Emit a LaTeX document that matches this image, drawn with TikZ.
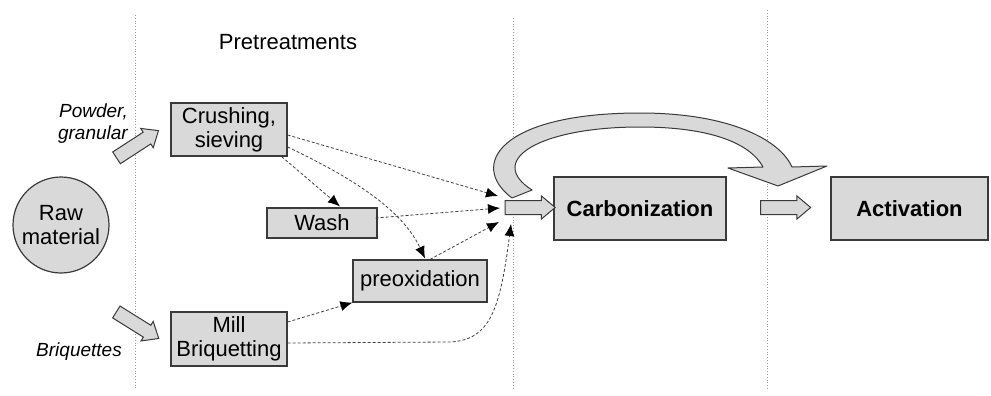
\documentclass[tikz,border=0pt]{standalone}
\usepackage{fontspec}
\setmainfont{Liberation Sans}
\usetikzlibrary{shapes.arrows,arrows.meta,calc}
\definecolor{boxfill}{HTML}{D9D9D9}
\definecolor{boxline}{HTML}{3A3A3A}
\begin{document}
\begin{tikzpicture}[x=1pt,y=-1pt,
  procbox/.style={draw=boxline,fill=boxfill,line width=1.2pt,inner sep=0pt,align=center,
     font=\fontsize{22}{24}\selectfont},
  bigbox/.style={procbox,font=\fontsize{22}{24}\selectfont\bfseries},
  fatarrow/.style={single arrow,draw=boxline,fill=boxfill,line width=1pt,inner xsep=0pt,inner ysep=6.5pt,
     minimum height=50pt,single arrow head extend=4.5pt,single arrow tip angle=80},
  flow/.style={densely dashed,draw=black!75,line width=0.8pt,-{Latex[length=12pt,width=10pt,color=black]}},
  sep/.style={dotted,draw=black!40,line width=0.8pt},
  lbl/.style={font=\fontsize{19}{22}\selectfont\itshape,align=right,inner sep=0pt}]
\useasboundingbox (0,0) rectangle (991,396);
% separators
\draw[sep] (135,15) -- (135,390);
\draw[sep] (513,18) -- (513,390);
\draw[sep] (767,10) -- (767,390);
% title
\node[font=\fontsize{22}{24}\selectfont] (title) at (288,42) {Pretreatments};
% raw material
\node[procbox,circle,minimum size=96pt] (raw) at (61,225) {Raw\\material};
% labels
\node[lbl,anchor=east] (pg) at (128,124) {Powder,\\granular};
\node[lbl] (briq) at (79,352) {Briquettes};
% process boxes
\node[procbox,minimum width=116pt,minimum height=53pt] (crush) at (229,129.5) {Crushing,\\sieving};
\node[procbox,minimum width=116pt,minimum height=54pt] (mill) at (229,339) {Mill\\Briquetting};
\node[procbox,minimum width=110pt,minimum height=30pt] (wash) at (322,223) {Wash};
\node[procbox,minimum width=134pt,minimum height=42pt] (preox) at (420,281) {preoxidation};
\node[bigbox,minimum width=172pt,minimum height=63pt] (carb) at (640,208.5) {Carbonization};
\node[bigbox,minimum width=157pt,minimum height=63pt] (act) at (909.5,208.5) {Activation};
% fat arrows
\node[fatarrow,rotate=33] (a1) at (134,146.5) {};
\node[fatarrow,rotate=-32] (a2) at (134,323) {};
\node[fatarrow] (a3) at (526,207.5) {};
\node[fatarrow] (a4) at (781.5,207.5) {};
% curved big arrow
\draw[draw=boxline,fill=boxfill,line width=1pt,line join=round]
  (512,198) .. controls (468,165) and (500,113) .. (640,113)
  .. controls (730,113) and (780,140) .. (792,167)
  -- (827,166) -- (778,186) -- (728,168) -- (763,167)
  .. controls (750,143) and (710,127) .. (640,127)
  .. controls (540,127) and (485,160) .. (532,190) -- cycle;
% target points near carbonization arrow
\coordinate (t1) at (498,196);
\coordinate (t2) at (500,208);
\coordinate (t3) at (499,222);
\coordinate (t4) at (511,224);
% connectors
\draw[flow] ($(crush.east)+(0,5.5)$) -- (t1);
\draw[flow] ($(crush.east)+(0,17.5)$) .. controls (340,172) and (400,205) .. ($(preox.north)+(5,-1)$);
\draw[flow] ($(crush.south east)+(-6,0)$) -- ($(wash.north)+(18,-1)$);
\draw[flow] ($(wash.east)+(-2,-5)$) -- (t2);
\draw[flow] ($(preox.north)+(10,0)$) -- (t3);
\draw[flow] ($(mill.east)+(0,-17)$) -- (preox.south west);
\draw[flow] ($(mill.east)+(0,4)$) -- (450,342) .. controls (490,340) and (500,310) .. (t4);
\end{tikzpicture}
\end{document}
